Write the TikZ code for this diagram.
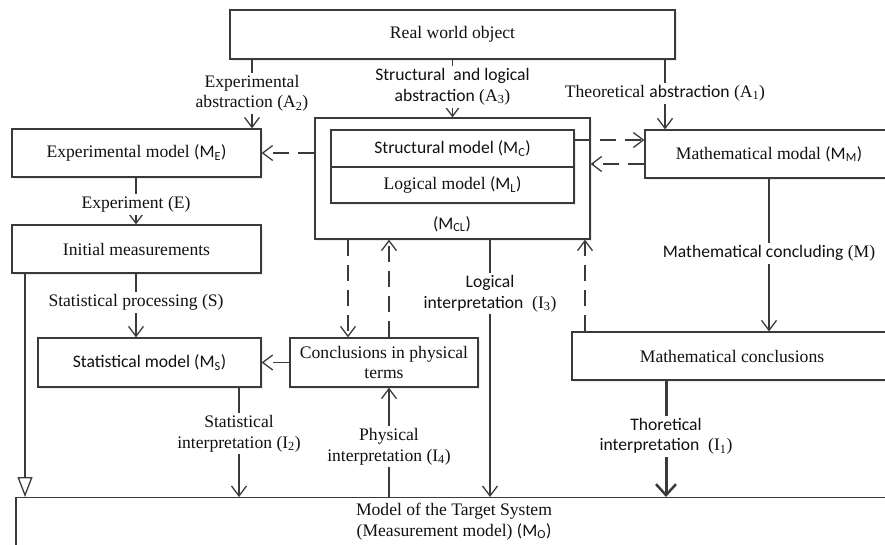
\documentclass[tikz,border=0pt]{standalone}
\usepackage{fontspec}
\setmainfont{Liberation Serif}
\newfontfamily\calib{Carlito}
\usetikzlibrary{arrows.meta,shadows}
\definecolor{ln}{HTML}{3a3a3a}
\definecolor{tx}{HTML}{111111}
\begin{document}
\begin{tikzpicture}[x=1pt,y=-1pt,
 every node/.style={text=tx, font=\fontsize{17.6}{20.5}\selectfont},
 box/.style={draw=ln, line width=1.2pt, fill=white, inner sep=0pt,
   drop shadow={shadow xshift=2pt, shadow yshift=-2pt, fill=black!8, opacity=1}},
 arr/.style={draw=ln, line width=1.3pt, -{Straight Barb[length=10pt,width=15pt,line width=1.3pt]}},
 dsh/.style={arr, dash pattern=on 16pt off 9pt},
 thick arr/.style={draw=ln, line width=3pt, -{Straight Barb[length=11pt,width=20pt,line width=2.5pt]}},
 tri/.style={draw=ln, line width=1.3pt, -{Triangle[open, length=20pt, width=15pt, line width=1.3pt]}},
 lbl/.style={fill=white, align=center, inner sep=2.5pt},
]
\useasboundingbox (0,0) rectangle (885,544);
\clip (0,0) rectangle (885,544);

% helper coordinates
\coordinate (xA2) at (252,0);
\coordinate (xA1) at (665,0);
\coordinate (xS) at (136,0);
\coordinate (xTri) at (25,0);
\coordinate (xI2) at (239,0);
\coordinate (xI4) at (389,0);
\coordinate (xI3) at (490,0);
\coordinate (xI1) at (666,0);
\coordinate (xD1) at (348,0);
\coordinate (xD3) at (585,0);
\coordinate (yC1) at (0,140);
\coordinate (yC2) at (0,164);

% boxes
\node[box, minimum width=445pt, minimum height=49pt] (rwo) at (452.5,34.5) {Real world object};
\node[box, minimum width=249pt, minimum height=48pt] (expm) at (136.5,153) {Experimental model {\calib (M\textsubscript{E})}};
\node[box, minimum width=249pt, minimum height=48pt] (init) at (136.5,249) {Initial measurements};
\node[box, minimum width=223pt, minimum height=49pt] (statm) at (149.5,362.5) {{\calib Statistical model (M\textsubscript{S})}};
\node[box, minimum width=188pt, minimum height=49pt, align=center] (concl) at (384,362.5) {Conclusions in physical\\terms};
\node[box, minimum width=275pt, minimum height=121pt] (mcl) at (452.5,178.5) {};
\node[box, minimum width=243pt, minimum height=37pt] (struct) at (452.5,148.5) {{\calib Structural model (M\textsubscript{C})}};
\node[box, minimum width=243pt, minimum height=36pt] (logic) at (452.5,185) {Logical model {\calib (M\textsubscript{L})}};
\node (mcllbl) at (452,224) {\calib (M\textsubscript{CL})};
\node[box, minimum width=248pt, minimum height=48pt] (mm) at (769,154) {Mathematical modal {\calib (M\textsubscript{M})}};
\node[box, minimum width=320pt, minimum height=48pt] (mc) at (732,356) {Mathematical conclusions};
\node[box, minimum width=876pt, minimum height=70pt, anchor=north] (tgt) at (454,497) {};
\node[align=center] (tgttxt) at (454,521.5) {Model of the Target System\\(Measurement model) {\calib (M\textsubscript{O})}};

% solid connectors
\draw[arr] (rwo.south -| xA2) -- node[lbl, pos=0.49] {Experimental\\abstraction (A\textsubscript{2})} (expm.north -| xA2);
\draw[arr] (rwo.south) -- node[lbl, pos=0.47] {{\calib Structural\ \ and logical}\\{\calib abstraction} (A\textsubscript{3})} (mcl.north);
\draw[arr] (rwo.south -| xA1) -- node[lbl, pos=0.48] {Theoretical {\calib abstraction} (A\textsubscript{1})} (mm.north -| xA1);
\draw[arr] (expm.south -| xS) -- node[lbl, pos=0.58] {Experiment (E)} (init.north -| xS);
\draw[arr] (init.south -| xS) -- node[lbl, pos=0.45] {Statistical processing (S)} (statm.north -| xS);
\draw[tri] (init.south -| xTri) -- (tgt.north -| xTri);
\draw[arr] (statm.south -| xI2) -- node[lbl, pos=0.42] {Statistical\\interpretation (I\textsubscript{2})} (tgt.north -| xI2);
\draw[arr] (tgt.north -| xI4) -- node[lbl, pos=0.46] {Physical\\interpretation (I\textsubscript{4})} (concl.south -| xI4);
\draw[arr] (mcl.south -| xI3) -- node[lbl, pos=0.21] {{\calib Logical}\\{\calib interpretation}\ \ (I\textsubscript{3})} (tgt.north -| xI3);
\draw[arr] (mm.south) -- node[lbl, pos=0.49] {{\calib Mathematical concluding} (M)} (mc.north -| mm.south);
\draw[thick arr] (mc.south -| xI1) -- node[lbl, pos=0.48] {{\calib Thoretical}\\{\calib interpretation}\ \ (I\textsubscript{1})} (tgt.north -| xI1);

% dashed connectors
\draw[dsh] (struct.east |- yC1) -- (mm.west |- yC1);
\draw[dsh] (mm.west |- yC2) -- (mcl.east |- yC2);
\draw[dsh] (mcl.west |- expm.east) -- (expm.east);
\draw[dsh] (concl.west) -- (statm.east);
\draw[dsh] (mcl.south -| xD1) -- (concl.north -| xD1);
\draw[dsh] (concl.north -| xI4) -- (mcl.south -| xI4);
\draw[dsh] (mc.north -| xD3) -- (mcl.south -| xD3);
\end{tikzpicture}
\end{document}
